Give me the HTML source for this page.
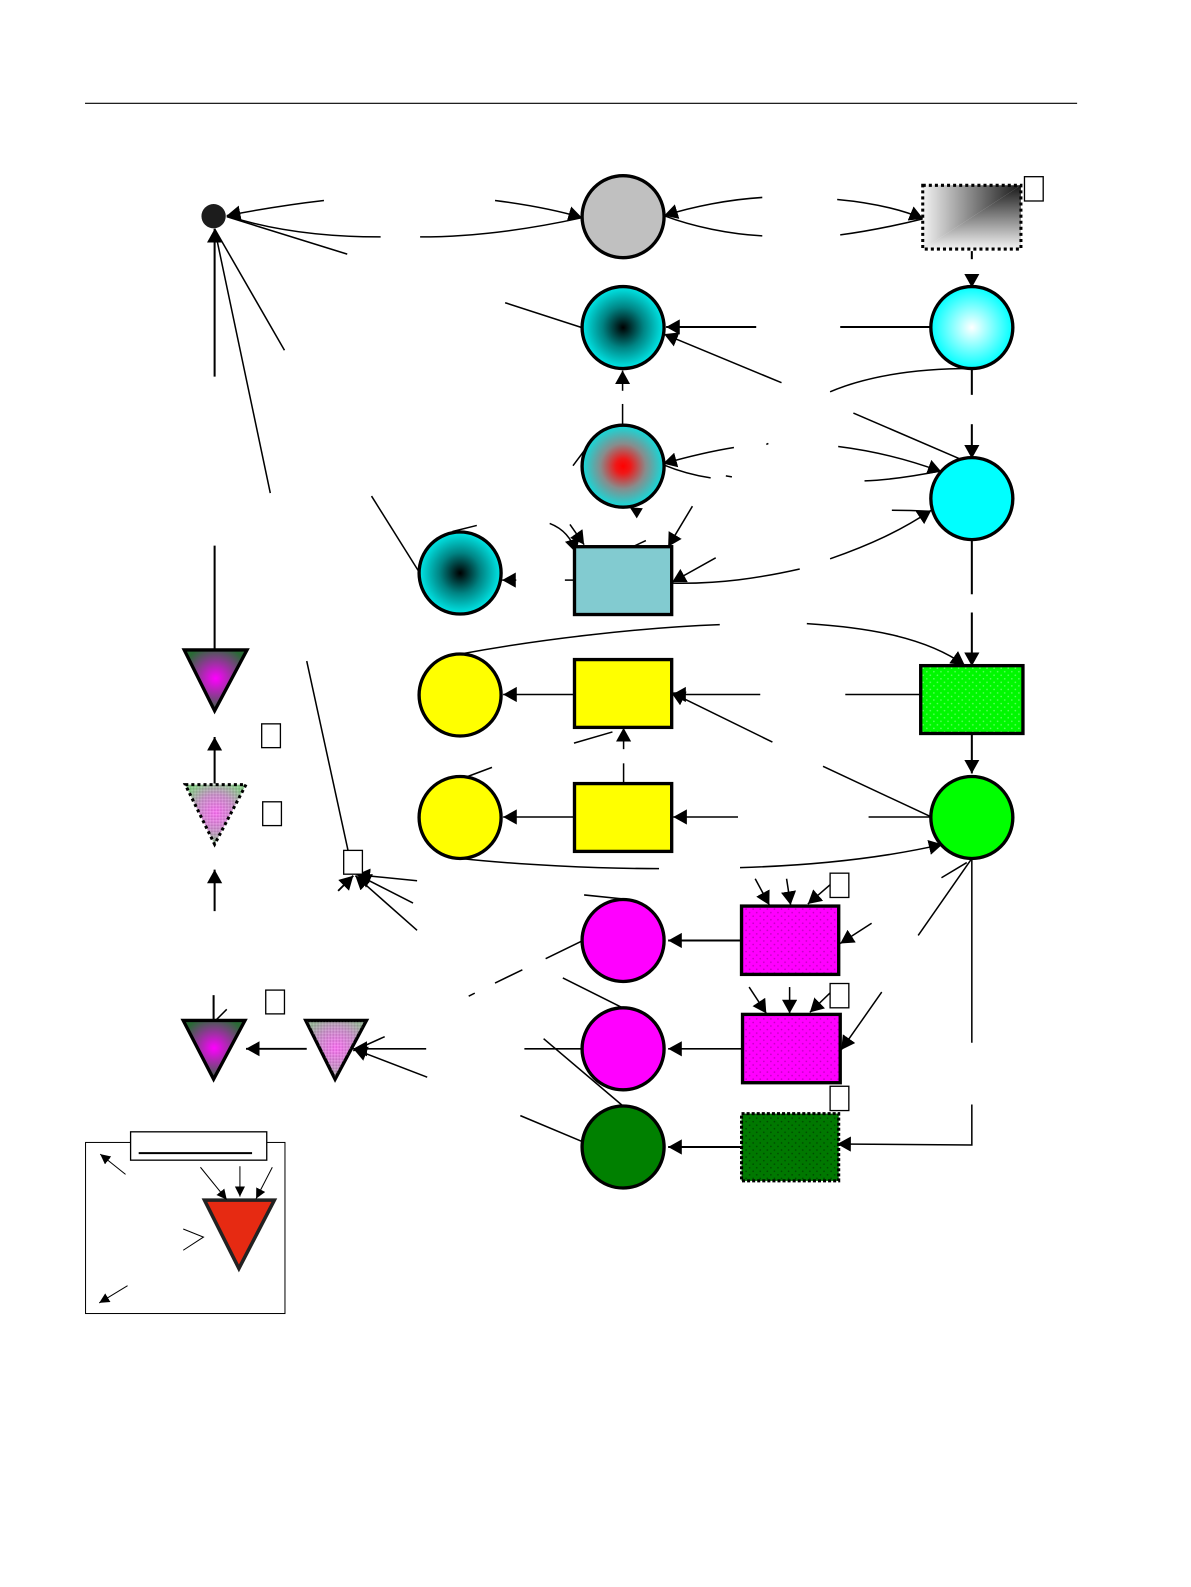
<!DOCTYPE html>
<html><head><meta charset="utf-8"><style>html,body{margin:0;padding:0;background:#fff}svg{display:block}</style></head><body>
<svg xmlns="http://www.w3.org/2000/svg" width="1191" height="1587" viewBox="0 0 1176.5 1567.6">
<defs>
<marker id="a" markerUnits="userSpaceOnUse" markerWidth="15" markerHeight="16" refX="13.500" refY="7.500" orient="auto"><path d="M0 0L13.500 7.500L0 15z" fill="#000"/></marker>
<marker id="s" markerUnits="userSpaceOnUse" markerWidth="11" markerHeight="11" refX="10" refY="5" orient="auto"><path d="M0 0L10 5L0 10z" fill="#000"/></marker>
<linearGradient id="gx" x1="0" y1="0" x2="1" y2="0"><stop offset="0" stop-color="#f2f2f2"/><stop offset="1" stop-color="#181818"/></linearGradient>
<linearGradient id="gy" x1="0" y1="0" x2="0" y2="1"><stop offset="0" stop-color="#181818"/><stop offset="1" stop-color="#f2f2f2"/></linearGradient>
<radialGradient id="cb"><stop offset="0" stop-color="#000"/><stop offset=".5" stop-color="#008484"/><stop offset="1" stop-color="#00e8e8"/></radialGradient>
<radialGradient id="cw"><stop offset="0" stop-color="#fff"/><stop offset="1" stop-color="#00ffff"/></radialGradient>
<radialGradient id="cr"><stop offset="0" stop-color="#ff0000"/><stop offset=".18" stop-color="#f01818"/><stop offset=".55" stop-color="#888c8c"/><stop offset="1" stop-color="#10dcdc"/></radialGradient>
<radialGradient id="tm" cx=".5" cy=".47" r=".55"><stop offset="0" stop-color="#ff00ff"/><stop offset="1" stop-color="#2a6a36"/></radialGradient>
<radialGradient id="tp" cx=".5" cy=".47" r=".55"><stop offset="0" stop-color="#f870f0"/><stop offset=".55" stop-color="#c890c8"/><stop offset="1" stop-color="#88c888"/></radialGradient>
<radialGradient id="tq" cx=".5" cy=".47" r=".55"><stop offset="0" stop-color="#f870f0"/><stop offset=".6" stop-color="#c890c8"/><stop offset="1" stop-color="#98b098"/></radialGradient>
<pattern id="pg" width="7" height="7" patternUnits="userSpaceOnUse"><rect width="7" height="7" fill="#00f800"/><circle cx="2" cy="2" r=".8" fill="#60ff60"/><circle cx="5.500" cy="5.500" r=".8" fill="#60ff60"/></pattern>
<pattern id="pm" width="7" height="7" patternUnits="userSpaceOnUse"><rect width="7" height="7" fill="#ff00ff"/><circle cx="2" cy="2" r=".8" fill="#c000c0"/><circle cx="5.500" cy="5.500" r=".8" fill="#c000c0"/></pattern>
<pattern id="pd" width="7" height="7" patternUnits="userSpaceOnUse"><rect width="7" height="7" fill="#007800"/><circle cx="2" cy="2" r=".8" fill="#004800"/><circle cx="5.500" cy="5.500" r=".8" fill="#004800"/></pattern>
<pattern id="dith" width="3" height="3" patternUnits="userSpaceOnUse"><rect width="1.500" height="1.500" fill="#fff" fill-opacity=".2"/><rect x="1.500" y="1.500" width="1.500" height="1.500" fill="#000" fill-opacity=".1"/></pattern>
</defs>

<line x1="84" y1="102" x2="1064" y2="102" stroke="#000" stroke-width="1.200"/>

<!-- legend -->
<rect x="84.500" y="1128.500" width="197" height="169" fill="#fff" stroke="#000" stroke-width="1"/>
<rect x="129" y="1118" width="134.500" height="28" fill="#fff" stroke="#000" stroke-width="1.300"/>
<line x1="137" y1="1139" x2="249" y2="1139" stroke="#000" stroke-width="2"/>
<polygon points="202,1185.500 271,1185.500 236,1253" fill="#e62a12" stroke="#222" stroke-width="3.500"/>
<g fill="none" stroke="#000" stroke-width="1">
<path d="M124 1160L99 1140" marker-end="url(#s)"/>
<path d="M126 1270L98 1287" marker-end="url(#s)"/>
<path d="M198 1153L224 1185" marker-end="url(#s)"/>
<path d="M237 1152L237 1182" marker-end="url(#s)"/>
<path d="M269 1153L253 1184" marker-end="url(#s)"/>
<path d="M181 1235L201 1222L181 1214" />
</g>

<g fill="none" stroke="#000" stroke-width="1.500">
<!-- top row -->
<path d="M320 198C285 202 255 207 224 213" marker-end="url(#a)"/>
<path d="M376 234C320 234 270 228 224 213"/>
<path d="M343 251L224 214"/>
<path d="M281 346L212 226"/>
<path d="M267 487L212 226"/>
<path d="M212 372L212 226" stroke-width="2" marker-end="url(#a)"/>
<path d="M489 198C520 202 548 207 575 215" marker-end="url(#a)"/>
<path d="M415 234C470 234 525 226 575 215"/>
<path d="M753 195C720 197 685 204 656 213" marker-end="url(#a)"/>
<path d="M753 233C720 231 685 224 656 213"/>
<path d="M827 197C860 200 888 206 912 216" marker-end="url(#a)"/>
<path d="M830 232C860 228 888 222 912 216"/>
<path d="M960 248L960 256" stroke-width="2"/>
<path d="M960 272L960 284" stroke-width="2" marker-end="url(#a)"/>

<!-- row 2 -->
<path d="M499 299L576 324"/>
<path d="M747 323L658 323" stroke-width="2" marker-end="url(#a)"/>
<path d="M830 323L920 323" stroke-width="2"/>
<path d="M772 378L656 330" marker-end="url(#a)"/>
<path d="M820 387C860 370 910 364 960 364"/>
<path d="M960 364L960 390" stroke-width="2"/>
<path d="M960 419L960 453" stroke-width="2" marker-end="url(#a)"/>
<path d="M843 408L950 454"/>
<path d="M615 399L615 420"/>
<path d="M615 386L615 366" marker-end="url(#a)"/>

<!-- row 3 -->
<path d="M725 442C700 446 680 451 655 458" marker-end="url(#a)"/>
<path d="M702 472C688 470 672 466 655 459"/>
<path d="M757 439L759 438M717 470L723 471"/>
<path d="M828 441C860 445 895 453 930 466" marker-end="url(#a)"/>
<path d="M854 475C880 474 905 470 930 465"/>
<path d="M881 504C890 504 900 504 918 505"/>
<path d="M820 552C860 538 890 524 920 504" marker-end="url(#a)"/>
<path d="M664 576C710 577 750 571 790 562"/>
<path d="M707 551L664 575" marker-end="url(#a)"/>
<path d="M684 500L660 540" marker-end="url(#a)"/>
<path d="M638 534L623 541"/>
<path d="M563 518L577 538" marker-end="url(#a)"/>
<path d="M543 517C556 522 565 532 569 546" marker-end="url(#a)"/>
<path d="M566 460L578 444"/>
<path d="M622 501L635 502L629 512z" fill="#000" stroke="none"/>
<path d="M558 573L567 573"/>
<path d="M510 573L496 573" marker-end="url(#a)"/>
<path d="M367 490L414 565"/>
<path d="M447 525L471 519"/>
<path d="M960 533L960 587" stroke-width="2"/>
<path d="M960 605L960 658" stroke-width="2" marker-end="url(#a)"/>

<!-- row 4 -->
<path d="M212 539L212 642" stroke-width="2"/>
<path d="M455 646C530 632 630 620 711 617"/>
<path d="M797 616C860 620 915 630 953 657" marker-end="url(#a)"/>
<path d="M751 686L664 686" marker-end="url(#a)"/>
<path d="M835 686L910 686"/>
<path d="M567 686L497 686" marker-end="url(#a)"/>
<path d="M763 733L663 684" marker-end="url(#a)"/>
<path d="M567 734L605 723"/>
<path d="M616 754L616 774"/>
<path d="M616 740L616 719" marker-end="url(#a)"/>
<path d="M960 725L960 764" stroke-width="2" marker-end="url(#a)"/>
<path d="M303 653L344 841"/>

<!-- row 5 -->
<path d="M212 774L212 728" stroke-width="2" marker-end="url(#a)"/>
<path d="M212 900L212 859" stroke-width="2" marker-end="url(#a)"/>
<path d="M813 757L920 807"/>
<path d="M858 807L920 807"/>
<path d="M729 807L665 807" marker-end="url(#a)"/>
<path d="M567 807L497 807" marker-end="url(#a)"/>
<path d="M462 767L486 758"/>
<path d="M455 848C510 854 590 858 651 858"/>
<path d="M731 857C800 855 870 848 931 834" marker-end="url(#a)"/>

<!-- to small box -->
<path d="M412 870L352 864" marker-end="url(#a)"/>
<path d="M408 892L353 864" marker-end="url(#a)"/>
<path d="M412 919L351 865" marker-end="url(#a)"/>
<path d="M334 880L349 865" stroke-width="1.800" marker-end="url(#a)"/>

<!-- right lower -->
<path d="M930 867L955 852"/>
<path d="M907 924L960 848"/>
<path d="M960 848L960 1030"/>
<path d="M960 1091L960 1131L827 1130" marker-end="url(#a)"/>
<path d="M861 912L830 932" marker-end="url(#a)"/>
<path d="M871 980L831 1037" marker-end="url(#a)"/>
<path d="M746 868L760 894" marker-end="url(#a)"/>
<path d="M777 868L781 894" marker-end="url(#a)"/>
<path d="M828 867L798 893" marker-end="url(#a)"/>
<path d="M740 975L757 1001" marker-end="url(#a)"/>
<path d="M780 975L780 1001" marker-end="url(#a)"/>
<path d="M826 975L800 1000" marker-end="url(#a)"/>
<path d="M732 929L660 929" stroke-width="2" marker-end="url(#a)"/>
<path d="M733 1036L660 1036" marker-end="url(#a)"/>
<path d="M733 1133L660 1133" stroke-width="2" marker-end="url(#a)"/>

<!-- magenta/green left -->
<path d="M577 884L616 888"/>
<path d="M576 929L539 947M516 958L489 971M469 981L463 984"/>
<path d="M556 966L616 996"/>
<path d="M518 1036L576 1036"/>
<path d="M537 1026L616 1093"/>
<path d="M514 1102L576 1128"/>

<!-- bottom triangles -->
<path d="M421 1036L349 1036" marker-end="url(#a)"/>
<path d="M422 1064L349 1036" marker-end="url(#a)"/>
<path d="M380 1024L349 1038"/>
<path d="M303 1036L243 1036" stroke-width="1.800" marker-end="url(#a)"/>
<path d="M211 983L211 1008" stroke-width="2"/>
<path d="M224 997L213 1008"/>
</g>

<!-- small node -->
<circle cx="211" cy="213.500" r="12" fill="#1c1c1c"/>

<!-- nodes -->
<g stroke="#000" stroke-width="3.300">
<circle cx="615.500" cy="214" r="40.500" fill="#c0c0c0"/>
<circle cx="615.500" cy="323.500" r="40.500" fill="url(#cb)"/>
<circle cx="615.500" cy="460.500" r="40.500" fill="url(#cr)"/>
<circle cx="454.500" cy="566" r="40.500" fill="url(#cb)"/>
<circle cx="960" cy="323.500" r="40.500" fill="url(#cw)"/>
<circle cx="960" cy="492.500" r="40.500" fill="#00ffff"/>
<circle cx="454.500" cy="686.500" r="40.500" fill="#ffff00"/>
<circle cx="454.500" cy="807.500" r="40.500" fill="#ffff00"/>
<circle cx="960" cy="807.500" r="40.500" fill="#00ff00"/>
<circle cx="615.500" cy="929" r="40.500" fill="#ff00ff"/>
<circle cx="615.500" cy="1036" r="40.500" fill="#ff00ff"/>
<circle cx="615.500" cy="1133" r="40.500" fill="#008000"/>
<rect x="567.500" y="540" width="96" height="67" fill="#82cbd0"/>
<rect x="567.500" y="651.500" width="96" height="67" fill="#ffff00"/>
<rect x="567.500" y="774" width="96" height="67" fill="#ffff00"/>
<rect x="909.500" y="657.500" width="101" height="67" fill="url(#pg)"/>
<rect x="732.500" y="895" width="96" height="67.500" fill="url(#pm)"/>
<rect x="733.500" y="1002" width="96.500" height="67.500" fill="url(#pm)"/>
<polygon points="182,642 244,642 212,702" fill="url(#tm)"/>
<polygon points="181,1008 242,1008 211,1066" fill="url(#tm)"/>
<polygon points="302,1008 362,1008 331,1066" fill="url(#tq)"/>
</g>
<polygon points="303,1009 361,1009 331,1064" fill="url(#dith)"/>

<!-- gradient rect: corner gradient from top right -->
<polygon points="911.500,183 1008.500,183 911.500,246" fill="url(#gx)"/>
<polygon points="1008.500,183 1008.500,246 911.500,246" fill="url(#gy)"/>
<rect x="911.500" y="183" width="97" height="63" fill="none" stroke="#000" stroke-width="3" stroke-dasharray="3 3"/>
<rect x="732.500" y="1100" width="96" height="66.500" fill="url(#pd)" stroke="#000" stroke-width="3" stroke-dasharray="3 2"/>
<polygon points="183,775 243,775 212,834" fill="url(#tp)"/>
<polygon points="183,775 243,775 212,834" fill="url(#dith)" stroke="#000" stroke-width="3" stroke-dasharray="3 3"/>

<!-- tag boxes -->
<g fill="#fff" stroke="#000" stroke-width="1.300">
<rect x="1012" y="174.500" width="18.500" height="24"/>
<rect x="258.500" y="715" width="18.500" height="23.500"/>
<rect x="259.500" y="792" width="18.500" height="23.500"/>
<rect x="339.500" y="840" width="18.500" height="23.500"/>
<rect x="262.500" y="978" width="18.500" height="23.500"/>
<rect x="820" y="862.500" width="18.500" height="24"/>
<rect x="820" y="971.500" width="18.500" height="24"/>
<rect x="820" y="1073" width="18.500" height="24"/>
</g>
</svg>
</body></html>
